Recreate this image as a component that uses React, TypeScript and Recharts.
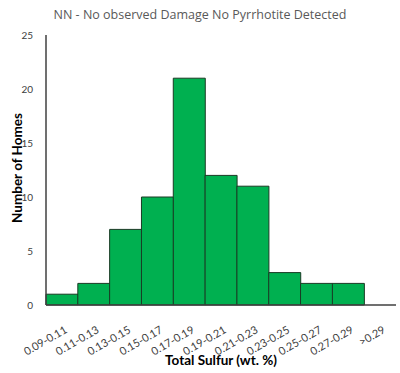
import React from "react";
import { BarChart, Bar, XAxis, YAxis, Label } from "recharts";

const categories = [
  "0.09-0.11",
  "0.11-0.13",
  "0.13-0.15",
  "0.15-0.17",
  "0.17-0.19",
  "0.19-0.21",
  "0.21-0.23",
  "0.23-0.25",
  "0.25-0.27",
  "0.27-0.29",
  ">0.29",
];
const homes = [1, 2, 7, 10, 21, 12, 11, 3, 2, 2, 0];
const yTicks = [0, 5, 10, 15, 20, 25];

const data = categories.map((c, i) => ({ range: c, homes: homes[i] }));

const font = "'Open Sans', 'Liberation Sans', sans-serif";
const axisFont = "Lato, 'Liberation Sans', sans-serif";

function RotatedTick({ x, y, payload }: any) {
  const tx = x + 6;
  const ty = y + 19;
  return (
    <text
      x={tx}
      y={ty}
      transform={`rotate(-30, ${tx}, ${ty})`}
      textAnchor="end"
      fontSize={11}
      fill="#404040"
      fontFamily={axisFont}
    >
      {payload.value}
    </text>
  );
}

function YTitle({ viewBox }: any) {
  const cx = 22;
  const cy = viewBox.y + viewBox.height / 2 - 2;
  return (
    <text
      x={cx}
      y={cy}
      transform={`rotate(-90, ${cx}, ${cy})`}
      textAnchor="middle"
      fontFamily={axisFont}
      fontSize={13.5}
      fontWeight={700}
      fill="#000"
    >
      Number of Homes
    </text>
  );
}

export default function App() {
  return (
    <div style={{ position: "absolute", left: 0, top: 0, width: 400, height: 373, background: "#fff" }}>
      <div
        style={{
          position: "absolute",
          top: 6,
          left: 0,
          width: 400,
          textAlign: "center",
          fontFamily: font,
          fontSize: 12.5,
          color: "#595959",
        }}
      >
        NN - No observed Damage No Pyrrhotite Detected
      </div>
      <BarChart
        width={400}
        height={373}
        data={data}
        margin={{ top: 35, right: 4, left: 0, bottom: 0 }}
        barCategoryGap={0}
      >
        <XAxis
          dataKey="range"
          interval={0}
          tickLine={false}
          axisLine={{ stroke: "#404040", strokeWidth: 1.5 }}
          tick={<RotatedTick />}
          height={68}
        >
          <Label
            value="Total Sulfur (wt. %)"
            position="insideBottom"
            offset={8}
            style={{ fontFamily: axisFont, fontSize: 13.5, fontWeight: 700, fill: "#000" }}
          />
        </XAxis>
        <YAxis
          width={46}
          domain={[0, 25]}
          ticks={yTicks}
          interval={0}
          tickLine={false}
          axisLine={{ stroke: "#404040", strokeWidth: 1.5 }}
          tick={{ fontSize: 10, fill: "#404040", fontFamily: axisFont }}
          tickMargin={7}
        >
          <Label content={<YTitle />} />
        </YAxis>
        <Bar
          dataKey="homes"
          fill="#00B050"
          stroke="#1a3a24"
          strokeWidth={1}
          isAnimationActive={false}
        />
      </BarChart>
    </div>
  );
}
